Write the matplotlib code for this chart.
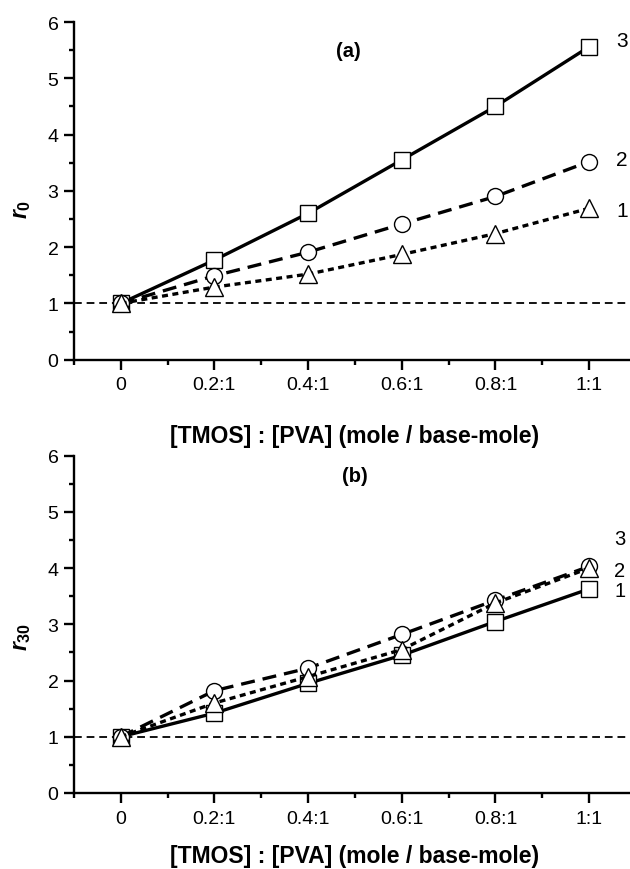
import matplotlib
matplotlib.use("Agg")
import matplotlib.pyplot as plt
from matplotlib.ticker import MultipleLocator

plt.rcParams['font.family'] = ['Liberation Sans', 'DejaVu Sans']
plt.rcParams['mathtext.fontset'] = 'custom'
plt.rcParams['mathtext.it'] = 'Liberation Sans:italic:bold'
plt.rcParams['mathtext.bf'] = 'Liberation Sans:bold'
plt.rcParams['mathtext.rm'] = 'Liberation Sans:bold'

# ---- data ----
x_vals = [0.0, 0.2, 0.4, 0.6, 0.8, 1.0]
x_ticklabels = ["0", "0.2:1", "0.4:1", "0.6:1", "0.8:1", "1:1"]

# panel (a): r0
a_squares = [1.0, 1.77, 2.60, 3.55, 4.50, 5.56]
a_circles = [1.0, 1.49, 1.91, 2.41, 2.90, 3.52]
a_triangles = [1.0, 1.29, 1.52, 1.87, 2.24, 2.69]
a_curve_labels = ["3", "2", "1"]
a_label_y = [5.67, 3.55, 2.65]

# panel (b): r30
b_squares = [1.0, 1.42, 1.95, 2.45, 3.05, 3.63]
b_circles = [1.0, 1.82, 2.22, 2.82, 3.43, 4.03]
b_triangles = [1.0, 1.60, 2.07, 2.55, 3.38, 4.00]
b_curve_labels = ["3", "2", "1"]
b_label_y = [4.52, 3.95, 3.60]

xlabel = "[TMOS] : [PVA] (mole / base-mole)"

W, H = 630, 870
fig = plt.figure(figsize=(W / 100, H / 100), dpi=100)

def fx(px):
    return px / W

def fy(py):
    return 1 - py / H

left_px, right_px = 73.8, 636.0
top_a, bot_a = 23.0, 360.7
top_b, bot_b = 456.7, 794.0

ax_a = fig.add_axes([fx(left_px), fy(bot_a), fx(right_px - left_px), (bot_a - top_a) / H])
ax_b = fig.add_axes([fx(left_px), fy(bot_b), fx(right_px - left_px), (bot_b - top_b) / H])

mk = dict(markerfacecolor='white', markeredgecolor='black', markeredgewidth=1.0, color='black')

def style(ax, ylab, ylab_y, xlab_y):
    ax.set_xlim(-0.1, 1.1)
    ax.set_ylim(0, 6)
    for s in ['top', 'right']:
        ax.spines[s].set_visible(False)
    for s in ['left', 'bottom']:
        ax.spines[s].set_linewidth(1.7)
    ax.set_xticks(x_vals)
    ax.set_xticklabels(x_ticklabels)
    ax.set_xticks([-0.1, 0.1, 0.3, 0.5, 0.7, 0.9], minor=True)
    ax.yaxis.set_major_locator(MultipleLocator(1))
    ax.yaxis.set_minor_locator(MultipleLocator(0.5))
    ax.tick_params(axis='both', which='major', direction='out', length=7, width=1.7,
                   labelsize=14, color='black')
    ax.tick_params(axis='both', which='minor', direction='out', length=3.5, width=1.7)
    ax.tick_params(axis='x', which='major', pad=5)
    ax.tick_params(axis='y', which='major', pad=4)
    ax.axhline(1.0, color='black', lw=1.3, ls=(0, (4.3, 2.7)), zorder=1)
    ax.set_xlabel(xlabel, fontsize=16.5, fontweight='bold')
    ax.xaxis.set_label_coords(0.5, xlab_y)
    ax.set_ylabel(ylab, fontsize=16.5)
    ax.yaxis.set_label_coords(-0.072, ylab_y)

def draw(ax, sq, ci, tr):
    ax.plot(x_vals, sq, ls='-', lw=2.4, marker='s', markersize=11, zorder=3, **mk)
    ax.plot(x_vals, ci, ls=(0, (4.2, 2.4)), lw=2.4, marker='o', markersize=11.5, zorder=3, **mk)
    ax.plot(x_vals, tr, ls=(0, (1.8, 1.35)), lw=2.4, marker='^', markersize=13.5, zorder=3, **mk)

# panel (a)
draw(ax_a, a_squares, a_circles, a_triangles)
for t, yy in zip(a_curve_labels, a_label_y):
    ax_a.text(1.07, yy, t, fontsize=15, ha='center', va='center', clip_on=False)
ax_a.text(0.487, 5.5, "(a)", fontsize=14.5, fontweight='bold', ha='center', va='center')
style(ax_a, r'$r_{\mathbf{0}}$', 0.449, -0.19)

# panel (b)
draw(ax_b, b_squares, b_circles, b_triangles)
for t, yy in zip(b_curve_labels, b_label_y):
    ax_b.text(1.065, yy, t, fontsize=14.5, ha='center', va='center', clip_on=False)
ax_b.text(0.5, 5.65, "(b)", fontsize=14.5, fontweight='bold', ha='center', va='center')
style(ax_b, r'$r_{\mathbf{30}}$', 0.465, -0.15)

fig.savefig("out.png", dpi=100)
